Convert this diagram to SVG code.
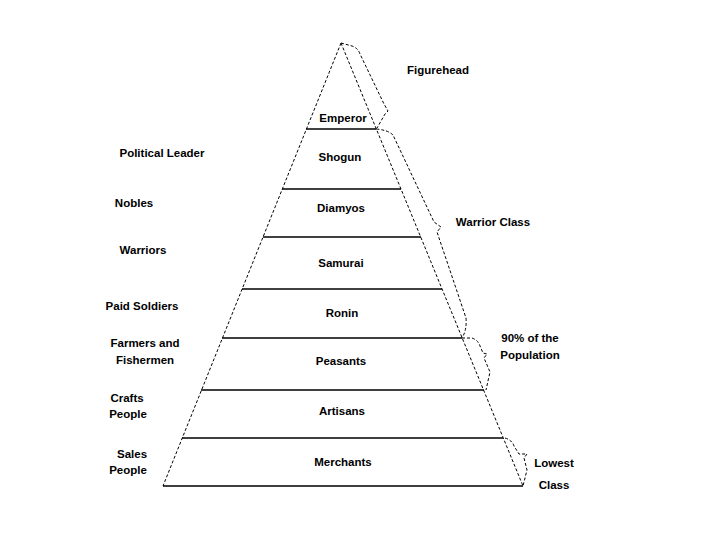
<svg xmlns="http://www.w3.org/2000/svg" width="720" height="540" viewBox="0 0 720 540">
<style>
text{font-family:"Liberation Sans",Arial,sans-serif;font-size:11.5px;font-weight:bold;fill:#000;text-anchor:middle}
.edge{fill:none;stroke:#000;stroke-width:1;stroke-dasharray:3,2}
.tier{fill:none;stroke:#000;stroke-width:1.3}
.brace{fill:none;stroke:#000;stroke-width:1;stroke-dasharray:3,2}
</style>
<rect width="720" height="540" fill="#fff"/>
<g id="pyramid">
<line class="edge" x1="341" y1="43" x2="163" y2="486"/>
<line class="edge" x1="341" y1="43" x2="523" y2="486"/>
<line class="tier" x1="306" y1="129" x2="376" y2="129"/>
<line class="tier" x1="282" y1="189" x2="401" y2="189"/>
<line class="tier" x1="263" y1="237" x2="421" y2="237"/>
<line class="tier" x1="242" y1="289" x2="442" y2="289"/>
<line class="tier" x1="222" y1="338" x2="462" y2="338"/>
<line class="tier" x1="201" y1="390" x2="484" y2="390"/>
<line class="tier" x1="182" y1="438" x2="503" y2="438"/>
<line class="tier" x1="163" y1="486" x2="523" y2="486"/>
</g>
<g id="emperor"><text x="343" y="122">Emperor</text></g>
<g id="shogun"><text x="340" y="161">Shogun</text></g>
<g id="diamyos"><text x="341" y="212">Diamyos</text></g>
<g id="samurai"><text x="341" y="267">Samurai</text></g>
<g id="ronin"><text x="342" y="317">Ronin</text></g>
<g id="peasants"><text x="341" y="365">Peasants</text></g>
<g id="artisans"><text x="342" y="415">Artisans</text></g>
<g id="merchants"><text x="343" y="466">Merchants</text></g>
<g id="label-political"><text x="162" y="157">Political Leader</text></g>
<g id="label-nobles"><text x="134" y="207">Nobles</text></g>
<g id="label-warriors"><text x="143" y="254">Warriors</text></g>
<g id="label-paid"><text x="142" y="310">Paid Soldiers</text></g>
<g id="label-farmers"><text x="145" y="347">Farmers and</text><text x="145" y="364">Fishermen</text></g>
<g id="label-crafts"><text x="127" y="402">Crafts</text><text x="128" y="418">People</text></g>
<g id="label-sales"><text x="132" y="458">Sales</text><text x="128" y="474">People</text></g>
<g id="label-figurehead"><text x="438" y="74">Figurehead</text></g>
<g id="label-warriorclass"><text x="493" y="226">Warrior Class</text></g>
<g id="label-population"><text x="530" y="342">90% of the</text><text x="530" y="359">Population</text></g>
<g id="label-lowest"><text x="554" y="467">Lowest</text><text x="554" y="489">Class</text></g>
<g id="connectors">
<path class="brace" d="M341,43 L352,46 Q358,48 360,54 L384,104 L388,111 L385,114 L377,128"/>
<path class="brace" d="M376,129 Q388,130 393,135 L434,222 L441,227 L437,232 L466,318 Q467,330 462,338"/>
<path class="brace" d="M462,338 L472,338 Q478,340 480,346 L483,353 L487,354 L484,358 L490,372 L486,390"/>
<path class="brace" d="M505,438 Q512,440 514,446 L519,454 L527,454 L524,458 L527,470 L523,486"/>
</g>
</svg>
